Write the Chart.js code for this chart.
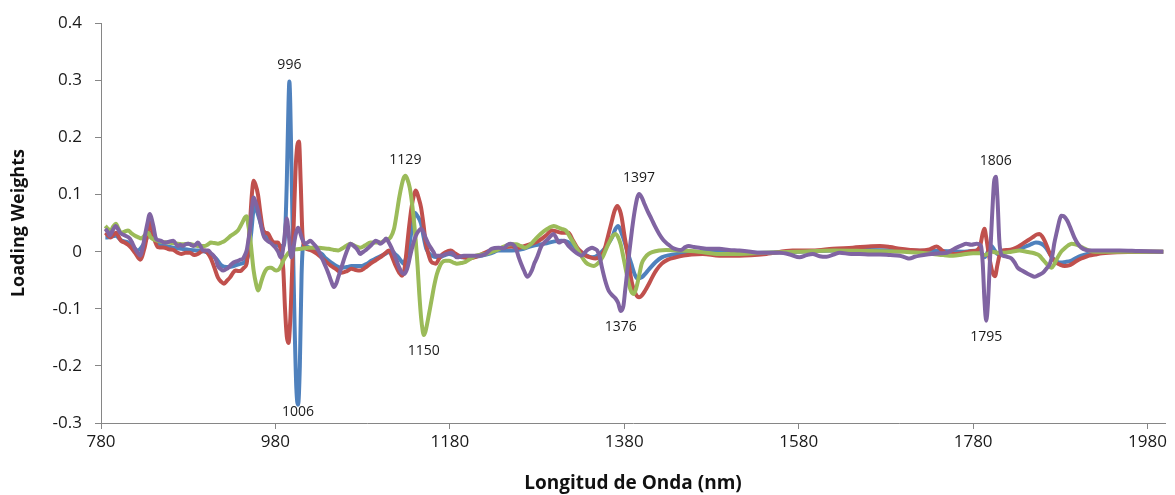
<!DOCTYPE html>
<html>
<head>
<meta charset="utf-8">
<script src="https://cdn.jsdelivr.net/npm/chart.js@4.4.1/dist/chart.umd.min.js"></script>
<style>
  html, body { margin: 0; padding: 0; background: #fff; }
  #wrap { width: 1175px; height: 495px; }
</style>
</head>
<body>
<div id="wrap"><canvas id="loadings"></canvas></div>
<script>
// PLS loading weights vs wavelength, four components

const xTicks = [780, 980, 1180, 1380, 1580, 1780, 1980];

const blueNm = [785, 787, 797, 803, 811, 817, 822, 830, 836, 842, 848, 853, 863, 872, 882, 891, 899, 906, 912, 918, 924, 930, 938, 945, 949, 952, 956, 960, 964, 968, 974, 980, 985, 989, 991, 993, 995, 996, 997, 999, 1000, 1002, 1004, 1006, 1008, 1010, 1012, 1015, 1021, 1027, 1033, 1038, 1044, 1050, 1056, 1062, 1067, 1073, 1079, 1085, 1090, 1096, 1102, 1108, 1113, 1117, 1121, 1125, 1127, 1130, 1133, 1137, 1140, 1143, 1147, 1150, 1153, 1159, 1167, 1173, 1179, 1188, 1198, 1208, 1217, 1227, 1236, 1251, 1262, 1274, 1289, 1300, 1308, 1315, 1322, 1328, 1336, 1343, 1350, 1356, 1362, 1366, 1370, 1373, 1377, 1380, 1384, 1388, 1392, 1395, 1400, 1405, 1410, 1416, 1423, 1432, 1441, 1452, 1464, 1480, 1500, 1540, 1580, 1620, 1660, 1700, 1740, 1770, 1785, 1790, 1793, 1797, 1801, 1804, 1808, 1814, 1826, 1837, 1845, 1852, 1858, 1863, 1868, 1873, 1879, 1886, 1892, 1898, 1904, 1911, 1918, 1930, 1950, 1975, 1998];
const blueLw = [0.025, 0.025, 0.028, 0.020, 0.016, 0.008, 0.002, 0.016, 0.033, 0.019, 0.012, 0.010, 0.007, 0.005, 0.003, 0.002, 0.0, -0.004, -0.012, -0.024, -0.027, -0.026, -0.022, -0.018, -0.005, 0.030, 0.082, 0.065, 0.045, 0.031, 0.020, 0.014, 0.010, 0.010, 0.030, 0.120, 0.260, 0.298, 0.260, 0.100, 0.020, -0.130, -0.240, -0.268, -0.200, -0.040, 0.012, 0.010, 0.005, 0.0, -0.004, -0.012, -0.019, -0.025, -0.028, -0.027, -0.025, -0.025, -0.025, -0.021, -0.016, -0.011, -0.007, -0.002, 0.002, -0.004, -0.010, -0.018, -0.021, -0.010, 0.007, 0.045, 0.068, 0.062, 0.049, 0.025, 0.005, -0.007, -0.010, -0.007, -0.004, -0.008, -0.010, -0.009, -0.007, -0.003, 0.002, 0.002, 0.004, 0.010, 0.014, 0.018, 0.019, 0.017, 0.010, 0.002, -0.006, -0.010, -0.006, 0.003, 0.015, 0.025, 0.040, 0.045, 0.032, 0.019, -0.002, -0.021, -0.040, -0.047, -0.045, -0.037, -0.028, -0.018, -0.010, -0.006, -0.004, -0.002, -0.001, 0.0, -0.001, -0.002, 0.0, 0.002, 0.003, 0.002, 0.001, 0.0, 0.002, -0.003, -0.010, 0.0, 0.010, 0.004, -0.004, 0.0, 0.003, 0.007, 0.012, 0.016, 0.014, 0.008, -0.004, -0.014, -0.019, -0.018, -0.016, -0.011, -0.007, -0.004, -0.002, 0.0, 0.0, 0.0, 0.0];

const redNm = [785, 791, 797, 803, 807, 811, 815, 819, 825, 830, 833, 836, 840, 845, 853, 858, 863, 868, 872, 877, 882, 887, 891, 895, 899, 903, 906, 910, 914, 918, 921, 925, 928, 931, 934, 938, 941, 944, 947, 949, 951, 953, 955, 957, 960, 963, 966, 969, 972, 975, 978, 983, 987, 989, 991, 993, 995, 997, 999, 1001, 1003, 1005, 1007, 1009, 1011, 1014, 1020, 1026, 1031, 1037, 1043, 1049, 1056, 1062, 1067, 1072, 1077, 1083, 1089, 1095, 1100, 1105, 1110, 1114, 1118, 1122, 1125, 1128, 1130, 1133, 1136, 1139, 1141, 1144, 1147, 1150, 1152, 1155, 1158, 1161, 1164, 1167, 1170, 1175, 1181, 1186, 1190, 1196, 1202, 1208, 1213, 1220, 1227, 1234, 1240, 1251, 1259, 1266, 1274, 1282, 1290, 1297, 1303, 1308, 1316, 1321, 1326, 1331, 1336, 1341, 1347, 1352, 1357, 1361, 1365, 1369, 1372, 1375, 1377, 1380, 1383, 1386, 1389, 1393, 1397, 1400, 1404, 1408, 1412, 1417, 1423, 1430, 1439, 1448, 1457, 1470, 1489, 1512, 1543, 1573, 1596, 1619, 1642, 1660, 1673, 1685, 1696, 1708, 1719, 1730, 1738, 1743, 1748, 1757, 1765, 1772, 1780, 1784, 1788, 1791, 1793, 1795, 1798, 1802, 1805, 1808, 1811, 1814, 1820, 1826, 1832, 1837, 1843, 1848, 1853, 1856, 1859, 1862, 1865, 1868, 1871, 1875, 1880, 1885, 1890, 1894, 1899, 1904, 1909, 1913, 1920, 1928, 1945, 1970, 1998];
const redLw = [0.033, 0.025, 0.033, 0.019, 0.016, 0.012, 0.006, -0.002, -0.014, 0.007, 0.030, 0.051, 0.028, 0.008, 0.007, 0.004, 0.003, -0.002, -0.004, -0.002, -0.002, -0.006, -0.004, 0.0, 0.002, -0.004, -0.012, -0.028, -0.045, -0.053, -0.056, -0.050, -0.045, -0.038, -0.033, -0.034, -0.033, -0.028, -0.021, 0.010, 0.054, 0.100, 0.124, 0.118, 0.100, 0.065, 0.037, 0.033, 0.031, 0.022, 0.016, 0.016, -0.004, -0.030, -0.100, -0.148, -0.160, -0.120, -0.040, 0.050, 0.140, 0.185, 0.193, 0.120, 0.030, 0.007, 0.003, -0.002, -0.008, -0.016, -0.024, -0.030, -0.037, -0.034, -0.030, -0.032, -0.033, -0.028, -0.021, -0.015, -0.010, -0.004, 0.002, -0.010, -0.025, -0.037, -0.042, -0.030, -0.004, 0.040, 0.077, 0.100, 0.107, 0.095, 0.077, 0.045, 0.019, -0.002, -0.016, -0.020, -0.021, -0.014, -0.007, -0.001, 0.002, -0.003, -0.007, -0.010, -0.012, -0.010, -0.007, -0.002, 0.002, 0.005, 0.007, 0.009, 0.007, 0.010, 0.014, 0.019, 0.028, 0.037, 0.035, 0.033, 0.033, 0.020, 0.007, -0.001, -0.007, -0.010, -0.012, -0.008, 0.002, 0.025, 0.049, 0.072, 0.080, 0.072, 0.060, 0.030, 0.002, -0.030, -0.056, -0.074, -0.080, -0.077, -0.068, -0.057, -0.045, -0.032, -0.021, -0.014, -0.010, -0.007, -0.005, -0.004, -0.007, -0.007, -0.004, 0.002, 0.002, 0.005, 0.007, 0.009, 0.010, 0.008, 0.005, 0.003, 0.002, 0.004, 0.009, 0.004, -0.002, -0.004, -0.003, -0.001, 0.001, 0.002, 0.010, 0.032, 0.040, 0.025, -0.005, -0.035, -0.043, -0.022, -0.002, 0.002, 0.003, 0.005, 0.009, 0.014, 0.020, 0.025, 0.030, 0.031, 0.027, 0.019, 0.008, -0.004, -0.012, -0.019, -0.023, -0.025, -0.024, -0.021, -0.016, -0.012, -0.009, -0.007, -0.005, -0.003, -0.001, 0.0, 0.0];

const greenNm = [785, 788, 791, 794, 797, 800, 803, 807, 811, 815, 819, 823, 826, 830, 834, 837, 841, 845, 851, 857, 862, 868, 874, 880, 886, 891, 895, 899, 903, 906, 910, 914, 918, 922, 926, 929, 933, 937, 940, 943, 945, 947, 949, 951, 953, 955, 958, 960, 962, 964, 967, 970, 973, 975, 978, 981, 984, 986, 989, 991, 994, 997, 1003, 1010, 1018, 1024, 1029, 1035, 1041, 1047, 1052, 1056, 1061, 1066, 1071, 1077, 1083, 1089, 1095, 1100, 1106, 1112, 1116, 1119, 1122, 1125, 1127, 1129, 1131, 1134, 1137, 1140, 1143, 1145, 1147, 1149, 1150, 1152, 1155, 1159, 1162, 1165, 1168, 1171, 1175, 1179, 1184, 1188, 1193, 1198, 1204, 1210, 1216, 1221, 1227, 1233, 1238, 1244, 1250, 1256, 1261, 1266, 1272, 1277, 1282, 1288, 1294, 1299, 1303, 1308, 1313, 1318, 1324, 1330, 1336, 1340, 1345, 1350, 1355, 1359, 1362, 1366, 1370, 1373, 1376, 1379, 1382, 1385, 1388, 1391, 1394, 1397, 1400, 1404, 1408, 1412, 1420, 1428, 1445, 1465, 1489, 1512, 1540, 1580, 1620, 1660, 1700, 1720, 1734, 1746, 1757, 1768, 1780, 1788, 1793, 1797, 1802, 1808, 1814, 1824, 1833, 1841, 1848, 1852, 1856, 1860, 1864, 1867, 1870, 1873, 1877, 1881, 1885, 1889, 1893, 1897, 1902, 1907, 1913, 1920, 1930, 1960, 1998];
const greenLw = [0.045, 0.040, 0.037, 0.044, 0.049, 0.040, 0.033, 0.035, 0.037, 0.032, 0.028, 0.025, 0.023, 0.028, 0.033, 0.025, 0.021, 0.019, 0.017, 0.016, 0.015, 0.014, 0.013, 0.014, 0.012, 0.010, 0.010, 0.010, 0.013, 0.016, 0.015, 0.014, 0.016, 0.019, 0.024, 0.028, 0.032, 0.037, 0.045, 0.054, 0.060, 0.062, 0.045, 0.025, -0.005, -0.033, -0.058, -0.068, -0.062, -0.051, -0.038, -0.030, -0.028, -0.028, -0.031, -0.033, -0.031, -0.026, -0.016, -0.010, -0.004, 0.001, 0.004, 0.005, 0.007, 0.007, 0.007, 0.006, 0.005, 0.003, 0.002, 0.005, 0.010, 0.014, 0.010, 0.007, 0.011, 0.016, 0.016, 0.016, 0.020, 0.025, 0.040, 0.066, 0.095, 0.118, 0.129, 0.133, 0.128, 0.112, 0.080, 0.035, -0.025, -0.075, -0.115, -0.140, -0.146, -0.140, -0.118, -0.085, -0.060, -0.040, -0.027, -0.019, -0.016, -0.016, -0.019, -0.021, -0.020, -0.018, -0.012, -0.007, -0.005, -0.004, -0.001, 0.002, 0.006, 0.010, 0.013, 0.013, 0.010, 0.007, 0.012, 0.020, 0.028, 0.036, 0.042, 0.045, 0.043, 0.040, 0.037, 0.025, 0.010, -0.006, -0.019, -0.023, -0.025, -0.020, -0.010, 0.004, 0.014, 0.026, 0.031, 0.025, 0.012, -0.010, -0.033, -0.055, -0.070, -0.074, -0.062, -0.042, -0.021, -0.010, -0.004, -0.001, 0.002, 0.003, 0.002, 0.0, -0.004, -0.004, -0.002, 0.0, 0.002, 0.001, 0.0, -0.002, -0.004, -0.006, -0.007, -0.005, -0.003, -0.003, -0.006, -0.004, 0.0, -0.002, -0.002, 0.0, 0.002, 0.0, -0.002, -0.004, -0.007, -0.014, -0.021, -0.026, -0.028, -0.022, -0.010, 0.0, 0.006, 0.011, 0.014, 0.013, 0.010, 0.006, 0.002, 0.0, 0.0, 0.0, 0.0];

const purpleNm = [785, 788, 790, 793, 797, 800, 802, 805, 808, 813, 816, 819, 822, 825, 828, 830, 833, 836, 838, 840, 843, 846, 849, 852, 855, 859, 863, 868, 871, 874, 877, 880, 883, 886, 889, 891, 894, 897, 903, 906, 909, 912, 914, 917, 920, 923, 926, 929, 932, 935, 937, 940, 943, 945, 947, 949, 951, 953, 955, 957, 960, 962, 964, 966, 968, 971, 974, 977, 980, 983, 986, 988, 990, 992, 993, 995, 997, 998, 1000, 1002, 1004, 1006, 1008, 1010, 1012, 1014, 1017, 1020, 1023, 1026, 1029, 1033, 1037, 1041, 1044, 1047, 1050, 1052, 1056, 1060, 1063, 1066, 1069, 1072, 1075, 1077, 1080, 1083, 1086, 1089, 1092, 1095, 1098, 1100, 1104, 1107, 1110, 1113, 1116, 1119, 1122, 1125, 1128, 1131, 1133, 1135, 1138, 1141, 1144, 1147, 1150, 1152, 1155, 1158, 1161, 1164, 1170, 1176, 1182, 1188, 1196, 1204, 1213, 1221, 1228, 1236, 1242, 1246, 1250, 1254, 1257, 1259, 1262, 1265, 1269, 1274, 1277, 1280, 1285, 1289, 1293, 1296, 1299, 1302, 1305, 1308, 1311, 1316, 1320, 1325, 1328, 1331, 1334, 1337, 1340, 1343, 1346, 1349, 1352, 1354, 1358, 1362, 1366, 1370, 1373, 1376, 1379, 1381, 1383, 1386, 1389, 1392, 1395, 1397, 1400, 1403, 1407, 1411, 1415, 1420, 1425, 1430, 1435, 1440, 1445, 1450, 1454, 1460, 1466, 1477, 1489, 1500, 1512, 1525, 1535, 1558, 1570, 1581, 1589, 1596, 1604, 1612, 1620, 1627, 1640, 1650, 1662, 1673, 1685, 1696, 1702, 1707, 1713, 1719, 1727, 1734, 1742, 1750, 1756, 1761, 1767, 1772, 1778, 1784, 1789, 1791, 1793, 1795, 1797, 1799, 1801, 1803, 1804, 1806, 1808, 1810, 1812, 1814, 1819, 1824, 1828, 1831, 1836, 1843, 1847, 1850, 1855, 1860, 1864, 1868, 1871, 1873, 1876, 1879, 1881, 1884, 1888, 1892, 1896, 1900, 1904, 1909, 1913, 1925, 1948, 1970, 1998];
const purpleLw = [0.040, 0.034, 0.028, 0.036, 0.045, 0.038, 0.033, 0.030, 0.028, 0.023, 0.015, 0.005, -0.002, -0.007, 0.008, 0.025, 0.048, 0.066, 0.058, 0.045, 0.023, 0.020, 0.019, 0.016, 0.016, 0.018, 0.019, 0.010, 0.012, 0.010, 0.013, 0.014, 0.012, 0.010, 0.013, 0.016, 0.010, 0.002, 0.002, -0.003, -0.007, -0.015, -0.025, -0.030, -0.033, -0.031, -0.028, -0.023, -0.019, -0.017, -0.016, -0.014, -0.012, -0.006, 0.002, 0.020, 0.042, 0.075, 0.095, 0.088, 0.072, 0.058, 0.042, 0.030, 0.023, 0.019, 0.016, 0.012, 0.007, 0.0, -0.010, -0.003, 0.020, 0.050, 0.058, 0.035, 0.0, -0.010, -0.002, 0.020, 0.035, 0.042, 0.035, 0.025, 0.018, 0.014, 0.016, 0.019, 0.015, 0.010, 0.003, -0.010, -0.024, -0.039, -0.052, -0.062, -0.055, -0.045, -0.026, -0.007, 0.005, 0.014, 0.011, 0.007, 0.001, -0.004, -0.001, 0.002, 0.006, 0.010, 0.015, 0.019, 0.017, 0.014, 0.018, 0.023, 0.016, 0.007, -0.004, -0.016, -0.028, -0.037, -0.039, -0.030, -0.018, -0.004, 0.014, 0.028, 0.036, 0.040, 0.033, 0.025, 0.015, 0.007, 0.0, -0.007, -0.007, -0.004, -0.002, -0.010, -0.007, -0.007, -0.007, -0.004, 0.005, 0.007, 0.006, 0.012, 0.014, 0.010, 0.0, -0.010, -0.022, -0.033, -0.044, -0.033, -0.020, -0.010, 0.010, 0.017, 0.023, 0.028, 0.031, 0.024, 0.016, 0.018, 0.019, 0.010, 0.004, -0.002, -0.005, -0.007, -0.003, 0.002, 0.005, 0.007, 0.005, 0.002, -0.010, -0.025, -0.050, -0.068, -0.076, -0.082, -0.090, -0.104, -0.095, -0.068, -0.040, 0.002, 0.040, 0.072, 0.095, 0.101, 0.095, 0.084, 0.070, 0.058, 0.045, 0.031, 0.020, 0.013, 0.007, 0.004, 0.003, 0.008, 0.010, 0.008, 0.007, 0.005, 0.005, 0.003, 0.002, 0.0, -0.002, -0.002, -0.005, -0.010, -0.006, -0.004, -0.008, -0.009, -0.005, -0.002, -0.004, -0.004, -0.005, -0.005, -0.006, -0.007, -0.010, -0.012, -0.009, -0.007, -0.005, -0.004, -0.003, -0.002, 0.003, 0.007, 0.011, 0.014, 0.012, 0.014, 0.010, -0.020, -0.085, -0.121, -0.090, -0.025, 0.040, 0.100, 0.122, 0.131, 0.090, 0.020, -0.004, -0.007, -0.009, -0.012, -0.020, -0.028, -0.033, -0.039, -0.042, -0.044, -0.041, -0.037, -0.030, -0.021, -0.005, 0.014, 0.035, 0.055, 0.063, 0.062, 0.054, 0.040, 0.025, 0.014, 0.007, 0.003, 0.002, 0.002, 0.002, 0.001, 0.0];

// wavelengths annotated on the plot, per series
const peakSeries = ['blue', 'blue', 'green', 'green', 'purple', 'purple', 'purple', 'purple'];
const peakNm = [996, 1006, 1129, 1150, 1397, 1376, 1806, 1795];

// purple first so it is drawn on top, blue last (underneath)
const series = [
    { key: 'purple', nm: purpleNm, lw: purpleLw, color: '#8064A2' },
    { key: 'green', nm: greenNm, lw: greenLw, color: '#9BBB59' },
    { key: 'red', nm: redNm, lw: redLw, color: '#C0504D' },
    { key: 'blue', nm: blueNm, lw: blueLw, color: '#4F81BD' }
];

const axisGrey = '#868686';
const font = 'Open Sans';

const peakLabelPlugin = {
    id: 'peakLabels',
    afterDatasetsDraw(chart) {
        const { ctx, chartArea } = chart;
        ctx.save();
        ctx.font = '14px "Open Sans"';
        ctx.fillStyle = '#1a1a1a';
        ctx.textAlign = 'center';
        peakNm.forEach((nm, i) => {
            const dsIndex = series.findIndex(s => s.key === peakSeries[i]);
            const s = series[dsIndex];
            const idx = s.nm.indexOf(nm);
            if (idx < 0) return;
            const pt = chart.getDatasetMeta(dsIndex).data[idx];
            const up = s.lw[idx] >= 0;
            let y = up ? pt.y - 9 : pt.y + 9;
            ctx.textBaseline = up ? 'bottom' : 'top';
            if (!up) y = Math.min(y, chartArea.bottom - 18);
            ctx.fillText(String(nm), pt.x, y);
        });
        ctx.restore();
    }
};

new Chart(document.getElementById('loadings'), {
    type: 'line',
    data: {
        datasets: series.map(s => ({
            label: s.key,
            data: s.nm.map((x, i) => ({ x: x, y: s.lw[i] })),
            borderColor: s.color,
            backgroundColor: s.color,
            borderWidth: 4,
            pointRadius: 0,
            cubicInterpolationMode: 'monotone',
            fill: false
        }))
    },
    options: {
        responsive: true,
        maintainAspectRatio: false,
        animation: false,
        layout: { padding: { top: 23, right: 10, left: 0, bottom: 0 } },
        plugins: {
            legend: { display: false },
            tooltip: { enabled: false }
        },
        scales: {
            x: {
                type: 'linear',
                min: 780,
                max: 2000,
                afterBuildTicks: (scale) => { scale.ticks = xTicks.map(v => ({ value: v })); },
                afterFit: (scale) => { scale.height = 72; },
                border: { display: true, color: axisGrey, width: 1 },
                grid: { display: true, drawOnChartArea: false, drawTicks: true, tickLength: 6, color: axisGrey },
                ticks: {
                    color: '#1a1a1a',
                    padding: 3,
                    maxRotation: 0,
                    autoSkip: false,
                    font: { family: font, size: 17 },
                    callback: (v) => String(v)
                },
                title: {
                    display: true,
                    text: 'Longitud de Onda (nm)',
                    color: '#111',
                    padding: { top: 0, bottom: 0 },
                    font: { family: font, size: 19, weight: 'bold' }
                }
            },
            y: {
                min: -0.3,
                max: 0.4,
                afterFit: (scale) => { scale.width = 101; },
                border: { display: true, color: axisGrey, width: 1 },
                grid: { display: true, drawOnChartArea: false, drawTicks: true, tickLength: 6, color: axisGrey },
                ticks: {
                    stepSize: 0.1,
                    color: '#1a1a1a',
                    padding: 13,
                    font: { family: font, size: 17 },
                    callback: (v) => String(Number(v.toFixed(1)))
                },
                title: {
                    display: true,
                    text: 'Loading Weights',
                    color: '#111',
                    padding: { top: 8, bottom: 0 },
                    font: { family: font, size: 18, weight: 'bold' }
                }
            }
        }
    },
    plugins: [peakLabelPlugin]
});
</script>
</body>
</html>
